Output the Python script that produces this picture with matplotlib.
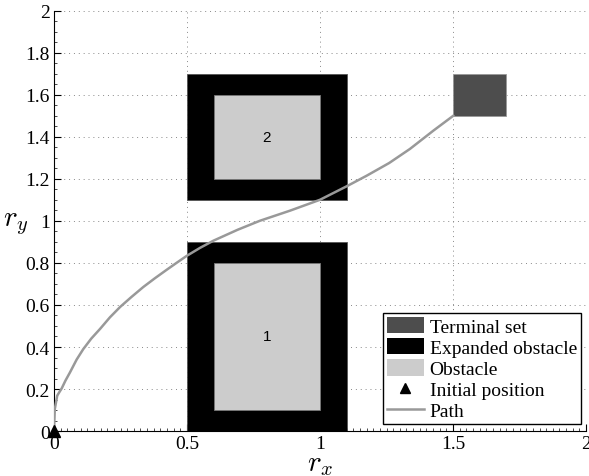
import matplotlib
matplotlib.use("Agg")
import matplotlib.pyplot as plt
from matplotlib.patches import Rectangle
from matplotlib.lines import Line2D
from matplotlib.ticker import MultipleLocator

# obstacles: (x0, y0, width, height), inner and expanded
obstacles = [(0.6, 0.1, 0.4, 0.7), (0.6, 1.2, 0.4, 0.4)]
expanded = [(0.5, 0.0, 0.6, 0.9), (0.5, 1.1, 0.6, 0.6)]
obstacle_ids = ["1", "2"]
terminal = (1.5, 1.5, 0.2, 0.2)
start = (0.0, 0.0)

path_x = [0.0, 0.0, 0.003, 0.008, 0.012, 0.020, 0.029, 0.043, 0.060, 0.085, 0.110, 0.140,
          0.173, 0.210, 0.248, 0.290, 0.336, 0.380, 0.424, 0.460, 0.499, 0.549, 0.599,
          0.690, 0.774, 0.887, 1.0, 1.1, 1.176, 1.26, 1.338, 1.426, 1.501]
path_y = [0.0, 0.01, 0.105, 0.14, 0.168, 0.185, 0.203, 0.24, 0.279, 0.34, 0.39, 0.44,
          0.486, 0.541, 0.590, 0.637, 0.686, 0.728, 0.768, 0.800, 0.834, 0.872, 0.906,
          0.958, 1.001, 1.049, 1.101, 1.165, 1.216, 1.276, 1.343, 1.43, 1.501]

xticks = [0, 0.5, 1, 1.5, 2]
xticklabels = ["0", "0.5", "1", "1.5", "2"]
yticks = [0, 0.2, 0.4, 0.6, 0.8, 1, 1.2, 1.4, 1.6, 1.8, 2]
yticklabels = ["0", "0.2", "0.4", "0.6", "0.8", "1", "1.2", "1.4", "1.6", "1.8", "2"]

plt.rcParams["font.family"] = "Liberation Serif"
plt.rcParams["mathtext.fontset"] = "cm"

fig = plt.figure(figsize=(5.89, 4.77), dpi=100)
ax = fig.add_axes([0.0917, 0.0943, 0.9033, 0.8807])

for (x0, y0, w, h) in expanded:
    ax.add_patch(Rectangle((x0, y0), w, h, facecolor="black", edgecolor="#555555", lw=0.6, zorder=2))
for (x0, y0, w, h), lab in zip(obstacles, obstacle_ids):
    ax.add_patch(Rectangle((x0, y0), w, h, facecolor="#cccccc", edgecolor="#777777", lw=0.6, zorder=3))
    ax.text(x0 + w / 2, y0 + h / 2, lab, ha="center", va="center",
            fontsize=11, family="Liberation Sans", zorder=4)
ax.add_patch(Rectangle(terminal[:2], terminal[2], terminal[3], facecolor="#4d4d4d",
                       edgecolor="#999999", lw=0.6, zorder=2))

ax.plot(path_x, path_y, color="#999999", lw=1.8, zorder=5, solid_joinstyle="round")
ax.plot(*start, marker="^", color="black", markersize=8, clip_on=False, zorder=6)

ax.set_xlim(0, 2)
ax.set_ylim(0, 2)
ax.set_xticks(xticks)
ax.set_xticklabels(xticklabels)
ax.set_yticks(yticks)
ax.set_yticklabels(yticklabels)
ax.yaxis.set_minor_locator(MultipleLocator(0.05))
ax.xaxis.set_minor_locator(MultipleLocator(0.025))
ax.tick_params(direction="in", labelsize=14, length=5, width=0.8)
ax.tick_params(which="minor", direction="in", length=2.5, width=0.5)
ax.tick_params(axis="x", pad=3)
ax.tick_params(axis="y", pad=3)
for s in ["top", "right"]:
    ax.spines[s].set_visible(False)
ax.grid(True, linestyle=(0, (1, 4)), color="#888888", linewidth=0.7)
ax.set_axisbelow(True)

ax.set_xlabel(r"$r_x$", fontsize=21)
ax.xaxis.set_label_coords(0.5, -0.048)
ax.set_ylabel(r"$r_y$", fontsize=21, rotation=0, va="center")
ax.yaxis.set_label_coords(-0.073, 0.495)

handles = [
    Rectangle((0, 0), 1, 1, facecolor="#4d4d4d", edgecolor="none"),
    Rectangle((0, 0), 1, 1, facecolor="black", edgecolor="none"),
    Rectangle((0, 0), 1, 1, facecolor="#cccccc", edgecolor="none"),
    Line2D([], [], marker="^", color="black", linestyle="none", markersize=7),
    Line2D([], [], color="#999999", lw=1.8),
]
labels = ["Terminal set", "Expanded obstacle", "Obstacle", "Initial position", "Path"]
leg = ax.legend(handles, labels, loc="lower right", bbox_to_anchor=(0.99, 0.016),
                fontsize=14, fancybox=False, edgecolor="black", framealpha=1,
                handlelength=1.9, handleheight=0.9, handletextpad=0.3, borderpad=0.2,
                labelspacing=0.12, borderaxespad=0)
leg.get_frame().set_linewidth(1.0)

fig.savefig("out.png", dpi=100)
